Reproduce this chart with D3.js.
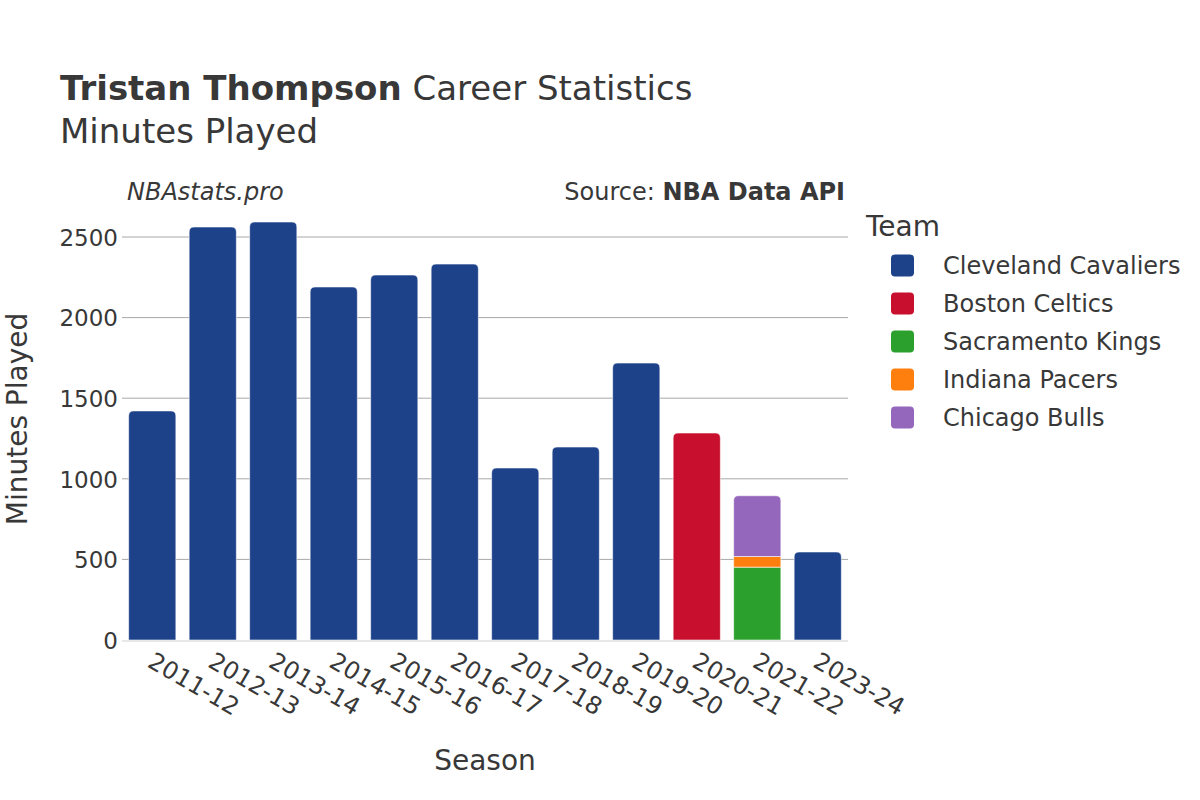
<!DOCTYPE html>
<html><head><meta charset="utf-8">
<script src="https://cdn.jsdelivr.net/npm/d3@7"></script>
<style>body{margin:0;background:#fff;} text{font-family:"DejaVu Sans",sans-serif;fill:#383838;}</style>
</head><body>
<svg id="c" width="1200" height="800"></svg>
<script>
const seasons = ["2011-12","2012-13","2013-14","2014-15","2015-16","2016-17","2017-18","2018-19","2019-20","2020-21","2021-22","2023-24"];
const teams = ["Cleveland Cavaliers","Boston Celtics","Sacramento Kings","Indiana Pacers","Chicago Bulls"];
const teamColors = ["#1d428a","#c8102e","#2ca02c","#ff7f0e","#9467bd"];
const cavaliers = [1421,2562,2593,2190,2264,2332,1067,1197,1718,0,0,546];
const celtics   = [0,0,0,0,0,0,0,0,0,1284,0,0];
const kings     = [0,0,0,0,0,0,0,0,0,0,452,0];
const pacers    = [0,0,0,0,0,0,0,0,0,0,66,0];
const bulls     = [0,0,0,0,0,0,0,0,0,0,377,0];
const yTicks = [0,500,1000,1500,2000,2500];
const seriesVals = [cavaliers, celtics, kings, pacers, bulls];

const svg = d3.select("#c");
const m = {l:122, r:848, t:200, b:640};
const x = d3.scaleBand().domain(seasons).range([m.l, m.r]).paddingInner(0.22).paddingOuter(0.11);
const y = d3.scaleLinear().domain([0, 2730]).range([m.b, m.b - 2730*0.1612]);

// grid
svg.append("g").selectAll("line").data(yTicks.filter(d=>d>0)).join("line")
  .attr("x1", m.l).attr("x2", m.r).attr("y1", d=>y(d)).attr("y2", d=>y(d))
  .attr("stroke", "#a8a8a8").attr("stroke-width", 1);

// y axis labels
const ya = svg.append("g").attr("transform", `translate(${m.l},0)`)
  .call(d3.axisLeft(y).tickValues(yTicks).tickFormat(d3.format("d")).tickSize(0).tickPadding(4));
ya.select(".domain").remove();
ya.selectAll("text").style("font-size","23px").attr("fill","#383838").attr("font-family","DejaVu Sans").attr("dy","0.36em");

// stacked bars
const rows = seasons.map((s,i)=>{const o={season:s}; teams.forEach((t,k)=>o[t]=seriesVals[k][i]); return o;});
const stack = d3.stack().keys(teams)(rows);
const r = 5;
function barPath(x0, w, yTop, yBot, rounded){
  const h = yBot - yTop;
  if (h<=0) return "";
  if(!rounded) return `M${x0},${yBot}V${yTop}H${x0+w}V${yBot}Z`;
  const rr = Math.min(r, h, w/2);
  return `M${x0},${yBot}V${yTop+rr}Q${x0},${yTop} ${x0+rr},${yTop}H${x0+w-rr}Q${x0+w},${yTop} ${x0+w},${yTop+rr}V${yBot}Z`;
}
const topLayer = seasons.map((s,i)=>{let t=-1; seriesVals.forEach((v,k)=>{if(v[i]>0)t=k;}); return t;});
stack.forEach((layer,k)=>{
  svg.append("g").selectAll("path").data(layer.map((d,i)=>({d,i}))).join("path")
    .attr("d", ({d,i})=> barPath(x(seasons[i]), x.bandwidth(), y(d[1]), y(d[0]), topLayer[i]===k))
    .attr("fill", teamColors[k]).attr("stroke","#fff").attr("stroke-width",0.7).attr("stroke-opacity",0.8);
});

// zero line
svg.append("line").attr("x1", m.l).attr("x2", m.r).attr("y1", y(0)+1).attr("y2", y(0)+1)
  .attr("stroke","#e8e8e8").attr("stroke-width",2);

// x labels
const xa = svg.append("g").attr("transform", `translate(0,${m.b})`)
  .call(d3.axisBottom(x).tickSize(0).tickPadding(0));
xa.select(".domain").remove();
xa.selectAll("text").style("font-size","24px").attr("fill","#383838").attr("font-family","DejaVu Sans")
  .attr("text-anchor","start").attr("dy","0")
  .attr("transform","translate(-6,26) rotate(30)");

// titles
const t1 = svg.append("text").attr("x",60).attr("y",100).style("font-size","34px");
t1.append("tspan").attr("font-weight","bold").text("Tristan Thompson");
t1.append("tspan").text(" Career Statistics");
svg.append("text").attr("x",60).attr("y",143).style("font-size","34px").text("Minutes Played");
svg.append("text").attr("x",127).attr("y",200).style("font-size","24px").attr("font-style","italic").text("NBAstats.pro");
const src = svg.append("text").attr("x",845).attr("y",200).attr("text-anchor","end").style("font-size","24px");
src.append("tspan").text("Source: ");
src.append("tspan").attr("font-weight","bold").text("NBA Data API");

svg.append("text").attr("transform","translate(27,419) rotate(-90)").attr("text-anchor","middle")
  .style("font-size","28px").text("Minutes Played");
svg.append("text").attr("x",485).attr("y",770).attr("text-anchor","middle").style("font-size","28px").text("Season");

// legend
svg.append("text").attr("x",866).attr("y",236).style("font-size","28px").text("Team");
const lg = svg.append("g").selectAll("g").data(teams).join("g")
  .attr("transform",(d,i)=>`translate(891,${265.5+i*38})`);
lg.append("rect").attr("x",0).attr("y",-11).attr("width",23).attr("height",22).attr("rx",4)
  .attr("fill",(d,i)=>teamColors[i]);
lg.append("text").attr("x",52).attr("y",8).style("font-size","24px").text(d=>d);
</script>
</body></html>
